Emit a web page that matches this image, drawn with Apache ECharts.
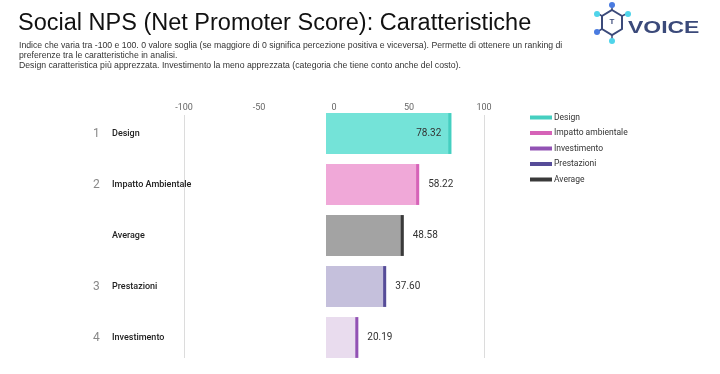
<!DOCTYPE html>
<html><head><meta charset="utf-8">
<script src="https://cdn.jsdelivr.net/npm/echarts@6/dist/echarts.min.js"></script>
<style>html,body{margin:0;padding:0;background:#fff}#c{width:720px;height:374px}</style>
</head><body><div id="c"></div>
<script>
const categories = ['Design', 'Impatto Ambientale', 'Average', 'Prestazioni', 'Investimento'];
const ranks = ['1', '2', '', '3', '4'];
const values = [78.32, 58.22, 48.58, 37.60, 20.19];
const legendNames = ['Design', 'Impatto ambientale', 'Investimento', 'Prestazioni', 'Average'];
const legendCategory = ['Design', 'Impatto Ambientale', 'Investimento', 'Prestazioni', 'Average'];
const tickValues = [-100, -50, 0, 50, 100];

const fills = {'Design':'#74e3d8','Impatto Ambientale':'#f0a8d8','Average':'#a3a3a3','Prestazioni':'#c5c0dc','Investimento':'#e9dcee'};
const edges = {'Design':'#45cfc0','Impatto Ambientale':'#d663b8','Average':'#3a3a3a','Prestazioni':'#564c98','Investimento':'#9252b4'};
const inside = {'Design':true};

const chart = echarts.init(document.getElementById('c'));
const series = legendNames.map((name, i) => {
  const cat = legendCategory[i];
  const idx = categories.indexOf(cat);
  return {
    type: 'custom', name: name, xAxisIndex: 0, yAxisIndex: 0,
    itemStyle: {color: edges[cat]},
    data: [[values[idx], idx]],
    renderItem: function(params, api) {
      const v = api.value(0), c = api.value(1);
      const p0 = api.coord([0, c]);
      const p1 = api.coord([v, c]);
      const h = api.size([0, 1])[1] * 0.8;
      const y = p0[1] - h / 2;
      const txt = v.toFixed(2);
      const isIn = inside[cat];
      return {type: 'group', children: [
        {type: 'rect', shape: {x: p0[0], y: y, width: p1[0] - p0[0], height: h}, style: {fill: fills[cat]}},
        {type: 'rect', shape: {x: p1[0] - 3, y: y, width: 3, height: h}, style: {fill: edges[cat]}},
        {type: 'text', x: isIn ? p1[0] - 10 : p1[0] + 9, y: p0[1],
          style: {text: txt, fill: '#333', font: '10px Roboto', align: isIn ? 'right' : 'left', verticalAlign: 'middle'}}
      ]};
    }
  };
});

chart.setOption({
  animation: false,
  title: [
    {text: 'Social NPS (Net Promoter Score): Caratteristiche', left: 13, top: 7,
     textStyle: {fontFamily: 'Liberation Sans', fontSize: 23.5, fontWeight: 'normal', color: '#111'}},
    {text: 'Indice che varia tra -100 e 100. 0 valore soglia (se maggiore di 0 significa percezione positiva e viceversa). Permette di ottenere un ranking di\npreferenze tra le caratteristiche in analisi.\nDesign caratteristica più apprezzata. Investimento la meno apprezzata (categoria che tiene conto anche del costo).',
     left: 14, top: 36,
     textStyle: {fontFamily: 'Liberation Sans', fontSize: 8.7, fontWeight: 'normal', color: '#333', lineHeight: 10}}
  ],
  legend: {
    orient: 'vertical', left: 525, top: 108, itemWidth: 22, itemHeight: 4, itemGap: 6.5,
    icon: 'rect', data: legendNames,
    textStyle: {fontFamily: 'Roboto', fontSize: 8.5, color: '#333', padding: [0, 0, 0, -3]}
  },
  grid: [
    {left: 166, width: 320, top: 108, height: 255},
    {left: 184, width: 300, top: 115, height: 243}
  ],
  xAxis: [
    {type: 'value', gridIndex: 0, min: -100, max: 100, show: false},
    {type: 'value', gridIndex: 1, min: -100, max: 100, interval: 50, position: 'top',
     axisLine: {show: false}, axisTick: {show: false},
     axisLabel: {margin: 3, color: '#666', fontFamily: 'Roboto', fontSize: 9,
       customValues: tickValues},
     splitLine: {show: true, lineStyle: {color: ['#dcdcdc', 'rgba(0,0,0,0)', 'rgba(0,0,0,0)', 'rgba(0,0,0,0)'], width: 1}}}
  ],
  yAxis: [
    {type: 'category', gridIndex: 0, data: categories, inverse: true,
     axisLine: {show: false}, axisTick: {show: false}, splitLine: {show: false},
     axisLabel: {align: 'left', margin: 73, interval: 0,
       formatter: function(v, i) { return '{n|' + ranks[i] + '}{c|' + v + '}'; },
       rich: {n: {width: 19, fontFamily: 'Roboto', fontSize: 12, color: '#888'},
              c: {fontFamily: 'Roboto', fontSize: 9, color: '#222', fontWeight: 500}}}},
    {type: 'value', gridIndex: 1, show: false}
  ],
  graphic: [
    {type: 'group', left: 594, top: 2, children: [
      {type: 'polygon', shape: {points: [[20,8],[30,14],[30,27],[20,33],[10,27],[10,14]]}, style: {fill: 'none', stroke: '#3b4a7a', lineWidth: 2}},
      {type: 'text', x: 20, y: 20, style: {text: 'T', font: 'bold 8px Liberation Sans', fill: '#3b4a7a', align: 'center', verticalAlign: 'middle'}},
      {type: 'line', shape: {x1: 20, y1: 3, x2: 20, y2: 8}, style: {stroke: '#3b4a7a', lineWidth: 1.5}},
      {type: 'line', shape: {x1: 5, y1: 11, x2: 10, y2: 14}, style: {stroke: '#3b4a7a', lineWidth: 1.5}},
      {type: 'line', shape: {x1: 36, y1: 11, x2: 30, y2: 14}, style: {stroke: '#3b4a7a', lineWidth: 1.5}},
      {type: 'line', shape: {x1: 5, y1: 30, x2: 10, y2: 27}, style: {stroke: '#3b4a7a', lineWidth: 1.5}},
      {type: 'line', shape: {x1: 20, y1: 33, x2: 20, y2: 38}, style: {stroke: '#3b4a7a', lineWidth: 1.5}},
      {type: 'circle', shape: {cx: 20, cy: 3, r: 3}, style: {fill: '#4a7be0'}},
      {type: 'circle', shape: {cx: 5, cy: 12, r: 3}, style: {fill: '#4fd4ea'}},
      {type: 'circle', shape: {cx: 36, cy: 12, r: 3}, style: {fill: '#4fd4ea'}},
      {type: 'circle', shape: {cx: 5, cy: 30, r: 3}, style: {fill: '#4a7be0'}},
      {type: 'circle', shape: {cx: 20, cy: 39, r: 3}, style: {fill: '#4fd4ea'}},
      {type: 'text', x: 36, y: 26, scaleX: 1.35, style: {text: 'VOICE', font: 'bold 17px Liberation Sans', fill: '#3b4a7a', verticalAlign: 'middle'}}
    ]}
  ],
  series: series
});
</script>
</body></html>
